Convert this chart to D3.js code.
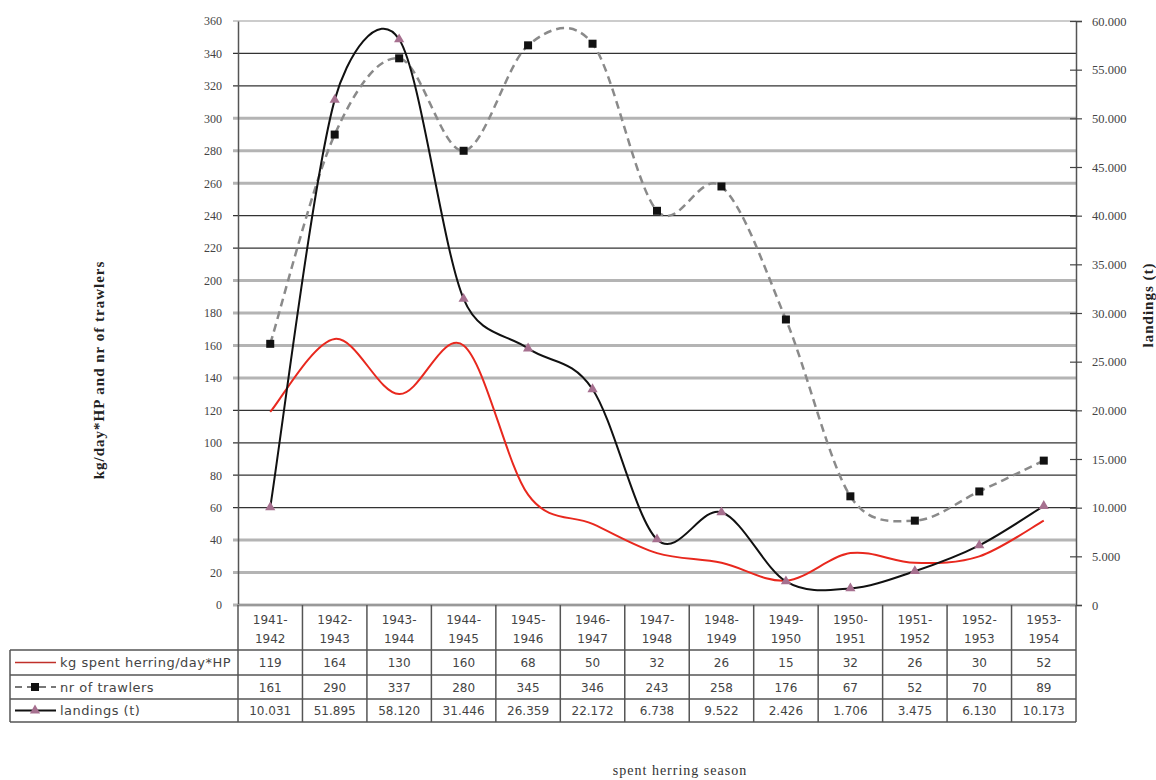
<!DOCTYPE html>
<html>
<head>
<meta charset="utf-8">
<script src="https://cdn.jsdelivr.net/npm/d3@7"></script>
<style>
  body { margin: 0; background: #fff; }
</style>
</head>
<body>
<div id="chart"></div>
<script>
// data
var seasonStart = ["1941-", "1942-", "1943-", "1944-", "1945-", "1946-", "1947-", "1948-", "1949-", "1950-", "1951-", "1952-", "1953-"];
var seasonEnd = ["1942", "1943", "1944", "1945", "1946", "1947", "1948", "1949", "1950", "1951", "1952", "1953", "1954"];
var kgPerDayHP = [119, 164, 130, 160, 68, 50, 32, 26, 15, 32, 26, 30, 52];
var trawlers = [161, 290, 337, 280, 345, 346, 243, 258, 176, 67, 52, 70, 89];
var landings = [10031, 51895, 58120, 31446, 26359, 22172, 6738, 9522, 2426, 1706, 3475, 6130, 10173];
var seriesNames = ["kg spent herring/day*HP", "nr of trawlers", "landings (t)"];
var leftTicks = [0, 20, 40, 60, 80, 100, 120, 140, 160, 180, 200, 220, 240, 260, 280, 300, 320, 340, 360];
var rightTicks = [0, 5000, 10000, 15000, 20000, 25000, 30000, 35000, 40000, 45000, 50000, 55000, 60000];
// scan artefact: some gridlines print dark, others light grey
var darkGrid = [60, 80, 100, 120, 220, 240, 320, 340];

var W = 1156, H = 780;
var plotLeft = 238, plotRight = 1076, plotTop = 21, plotBottom = 605;
var tableLeft = 10;
var rowY = [650, 675, 699, 722];

var svg = d3.select("#chart").append("svg")
    .attr("width", W)
    .attr("height", H);

var seasons = seasonStart.map(function(s, i) { return s + seasonEnd[i]; });

var x = d3.scaleBand()
    .domain(seasons)
    .range([plotLeft, plotRight]);

var yL = d3.scaleLinear().domain([0, 360]).range([plotBottom, plotTop]);
var yR = d3.scaleLinear().domain([0, 60000]).range([plotBottom, plotTop]);

var cx = function(i) { return x(seasons[i]) + x.bandwidth() / 2; };

var nl = d3.formatLocale({decimal: ",", thousands: ".", grouping: [3], currency: ["", ""]});
var fmt = nl.format(",d");

// gridlines
svg.append("g").selectAll("line")
    .data(leftTicks)
    .enter().append("line")
    .attr("x1", plotLeft - 5)
    .attr("x2", plotRight)
    .attr("y1", function(d) { return yL(d); })
    .attr("y2", function(d) { return yL(d); })
    .attr("stroke", function(d) { return darkGrid.indexOf(d) >= 0 ? "#333" : (d == 360 ? "#999" : "#b4b4b4"); })
    .attr("stroke-width", function(d) { return darkGrid.indexOf(d) >= 0 ? 1.2 : (d == 360 ? 1 : 3); });

// left axis
var gL = svg.append("g")
    .attr("transform", "translate(" + plotLeft + ",0)")
    .call(d3.axisLeft(yL).tickValues(leftTicks).tickSize(0).tickPadding(16));
gL.select(".domain").attr("stroke", "#555").attr("stroke-width", 1.5);
gL.selectAll("text")
    .style("font-family", "'Liberation Serif', 'DejaVu Serif', serif")
    .style("font-size", "12px")
    .attr("fill", "#444");

// right axis
var gR = svg.append("g")
    .attr("transform", "translate(" + plotRight + ",0)")
    .call(d3.axisRight(yR).tickValues(rightTicks).tickFormat(fmt).tickSize(6).tickPadding(10));
gR.select(".domain").attr("stroke", "#555").attr("stroke-width", 1.5);
gR.selectAll(".tick line").attr("x1", -6).attr("stroke", "#444").attr("stroke-width", 1.2);
gR.selectAll("text")
    .style("font-family", "'Liberation Serif', 'DejaVu Serif', serif")
    .style("font-size", "12.5px")
    .attr("fill", "#444");

// excel-like smoothing: bezier handles of (next - prev)/6, capped at half the segment
var smooth = function(values, yScale) {
    var pts = values.map(function(d, i) { return [cx(i), yScale(d)]; });
    var n = pts.length;
    var p = d3.path();
    p.moveTo(pts[0][0], pts[0][1]);
    var handle = function(a, b, segLen) {
        var dx = (b[0] - a[0]) / 6, dy = (b[1] - a[1]) / 6;
        var len = Math.sqrt(dx * dx + dy * dy);
        var k = len > segLen / 2 ? (segLen / 2) / len : 1;
        return [dx * k, dy * k];
    };
    for (var i = 0; i < n - 1; i++) {
        var p0 = pts[Math.max(i - 1, 0)], p1 = pts[i], p2 = pts[i + 1], p3 = pts[Math.min(i + 2, n - 1)];
        var seg = Math.sqrt(Math.pow(p2[0] - p1[0], 2) + Math.pow(p2[1] - p1[1], 2));
        var h1 = handle(p0, p2, seg), h2 = handle(p1, p3, seg);
        p.bezierCurveTo(p1[0] + h1[0], p1[1] + h1[1], p2[0] - h2[0], p2[1] - h2[1], p2[0], p2[1]);
    }
    return p.toString();
};

svg.append("path")
    .attr("d", smooth(trawlers, yL))
    .attr("fill", "none")
    .attr("stroke", "#8a8a8a")
    .attr("stroke-width", 2.5)
    .attr("stroke-dasharray", "8,5");

svg.append("path")
    .attr("d", smooth(kgPerDayHP, yL))
    .attr("fill", "none")
    .attr("stroke", "#e8281e")
    .attr("stroke-width", 2);

svg.append("path")
    .attr("d", smooth(landings, yR))
    .attr("fill", "none")
    .attr("stroke", "#111")
    .attr("stroke-width", 2);

// markers
svg.append("g").selectAll("rect")
    .data(trawlers)
    .enter().append("rect")
    .attr("x", function(d, i) { return cx(i) - 4; })
    .attr("y", function(d) { return yL(d) - 4; })
    .attr("width", 8)
    .attr("height", 8)
    .attr("fill", "#111");

var tri = d3.symbol().type(d3.symbolTriangle).size(45);
svg.append("g").selectAll("path")
    .data(landings)
    .enter().append("path")
    .attr("d", tri)
    .attr("transform", function(d, i) { return "translate(" + cx(i) + "," + yR(d) + ")"; })
    .attr("fill", "#a6708f");

// data table
var table = svg.append("g");
var tfont = "'DejaVu Sans', 'Liberation Sans', sans-serif";

// horizontal rules
table.append("line")
    .attr("x1", plotLeft).attr("x2", plotRight)
    .attr("y1", plotBottom).attr("y2", plotBottom)
    .attr("stroke", "#999").attr("stroke-width", 2);
rowY.forEach(function(yy) {
    table.append("line")
        .attr("x1", tableLeft).attr("x2", plotRight)
        .attr("y1", yy).attr("y2", yy)
        .attr("stroke", "#555").attr("stroke-width", 1.5);
});
// vertical rules
var edges = seasons.map(function(s) { return x(s); }).concat([plotRight]);
table.selectAll("line.v")
    .data(edges)
    .enter().append("line")
    .attr("class", "v")
    .attr("x1", function(d) { return d; }).attr("x2", function(d) { return d; })
    .attr("y1", plotBottom).attr("y2", rowY[3])
    .attr("stroke", "#555").attr("stroke-width", 1.5);
table.append("line")
    .attr("x1", tableLeft).attr("x2", tableLeft)
    .attr("y1", rowY[0]).attr("y2", rowY[3])
    .attr("stroke", "#555").attr("stroke-width", 1.5);

// header years
table.selectAll("text.y1")
    .data(seasonStart)
    .enter().append("text")
    .attr("x", function(d, i) { return cx(i); })
    .attr("y", 624)
    .attr("text-anchor", "middle")
    .style("font-family", tfont).style("font-size", "12px")
    .attr("fill", "#444")
    .text(function(d) { return d; });
table.selectAll("text.y2")
    .data(seasonEnd)
    .enter().append("text")
    .attr("x", function(d, i) { return cx(i); })
    .attr("y", 643)
    .attr("text-anchor", "middle")
    .style("font-family", tfont).style("font-size", "12px")
    .attr("fill", "#444")
    .text(function(d) { return d; });

var rows = [kgPerDayHP.map(String), trawlers.map(String), landings.map(fmt)];
rows.forEach(function(vals, r) {
    var yy = (rowY[r] + rowY[r + 1]) / 2 + 4.5;
    table.selectAll("text.r" + r)
        .data(vals)
        .enter().append("text")
        .attr("x", function(d, i) { return cx(i); })
        .attr("y", yy)
        .attr("text-anchor", "middle")
        .style("font-family", tfont).style("font-size", "12px")
        .attr("fill", "#444")
        .text(function(d) { return d; });
    table.append("text")
        .attr("x", 60)
        .attr("y", yy)
        .style("font-family", tfont).style("font-size", "13px")
        .style("letter-spacing", "0.5px")
        .attr("fill", "#444")
        .text(seriesNames[r]);
});

// legend keys in the table
var ky = function(r) { return (rowY[r] + rowY[r + 1]) / 2; };
table.append("line")
    .attr("x1", 15).attr("x2", 56).attr("y1", ky(0)).attr("y2", ky(0))
    .attr("stroke", "#c0302a").attr("stroke-width", 1.5);
table.append("line")
    .attr("x1", 15).attr("x2", 56).attr("y1", ky(1)).attr("y2", ky(1))
    .attr("stroke", "#777").attr("stroke-width", 2).attr("stroke-dasharray", "7,5");
table.append("rect")
    .attr("x", 31).attr("y", ky(1) - 4).attr("width", 8).attr("height", 8).attr("fill", "#111");
table.append("line")
    .attr("x1", 15).attr("x2", 56).attr("y1", ky(2)).attr("y2", ky(2))
    .attr("stroke", "#111").attr("stroke-width", 2);
table.append("path")
    .attr("d", tri)
    .attr("transform", "translate(35," + ky(2) + ")")
    .attr("fill", "#a6708f");

// axis titles
svg.append("text")
    .attr("transform", "translate(104,370) rotate(-90)")
    .attr("text-anchor", "middle")
    .style("font-family", "'Liberation Serif', 'DejaVu Serif', serif")
    .style("font-size", "15px")
    .style("font-weight", "bold")
    .style("letter-spacing", "1px")
    .attr("fill", "#222")
    .text("kg/day*HP and nr of trawlers");

svg.append("text")
    .attr("transform", "translate(1153,305) rotate(-90)")
    .attr("text-anchor", "middle")
    .style("font-family", "'Liberation Serif', 'DejaVu Serif', serif")
    .style("font-size", "15px")
    .style("font-weight", "bold")
    .style("letter-spacing", "1px")
    .attr("fill", "#222")
    .text("landings (t)");

svg.append("text")
    .attr("x", 680)
    .attr("y", 775)
    .attr("text-anchor", "middle")
    .style("font-family", "'Liberation Serif', 'DejaVu Serif', serif")
    .style("font-size", "14px")
    .style("letter-spacing", "1px")
    .attr("fill", "#333")
    .text("spent herring season");
</script>
</body>
</html>
